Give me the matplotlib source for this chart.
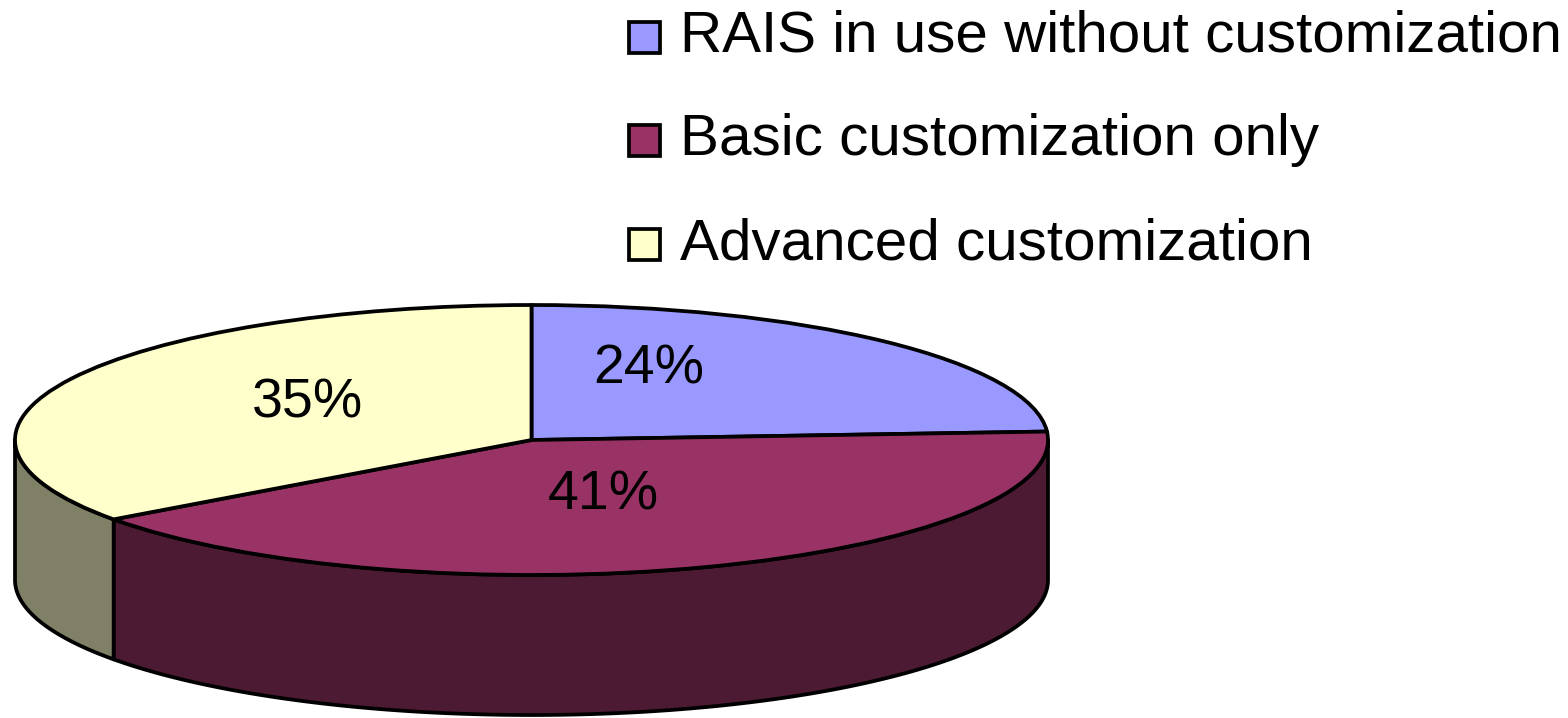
import numpy as np
import matplotlib
matplotlib.use("Agg")
import matplotlib.pyplot as plt
from matplotlib.patches import Polygon, Rectangle

plt.rcParams['font.family'] = ['Liberation Sans', 'DejaVu Sans']

# ---- data ----
categories = ["RAIS in use without customization",
              "Basic customization only",
              "Advanced customization"]
values = [24, 41, 35]
top_colors = ["#9999FF", "#993366", "#FFFFCC"]
side_colors = ["#4D4D80", "#4C1A33", "#808066"]

# ---- layout (pixels) ----
W, H = 1568, 718
cx, cy, rx, ry = 531.5, 440.0, 516.5, 135.0
depth = 140.0 / ry  # side depth in radius units
label_pos = [(649, 369), (603, 495), (307, 403)]
lw = 2.7

fig = plt.figure(figsize=(W / 100, H / 100), dpi=100)
ax = fig.add_axes([0, 0, 1, 1])

wedges, _ = ax.pie(values, colors=top_colors, startangle=90, counterclock=False,
                   wedgeprops=dict(edgecolor="black", linewidth=lw, joinstyle="round"))
ax.set_aspect("auto")
ax.set_xlim((0 - cx) / rx, (W - cx) / rx)
ax.set_ylim((cy - H) / ry, (cy - 0) / ry)
ax.axis("off")

# side faces of the 3-D pie (only the front half, angles -180..0, is visible)
total = float(sum(values))
start = 90.0
for v, sc in zip(values, side_colors):
    a1 = start - 360.0 * v / total  # clockwise
    a2 = start
    start = a1
    for shift in (0.0, 360.0, -360.0):
        l, h = max(a1 + shift, -180.0), min(a2 + shift, 0.0)
        if h > l:
            t = np.radians(np.linspace(l, h, 200))
            xs = np.cos(t)
            ys = np.sin(t)
            pts = np.concatenate([np.column_stack([xs, ys]),
                                  np.column_stack([xs[::-1], ys[::-1] - depth])])
            ax.add_patch(Polygon(pts, closed=True, facecolor=sc, edgecolor="black",
                                 linewidth=lw, joinstyle="round", zorder=0.5))

# overlay axes in pixel coordinates for labels and legend
ov = fig.add_axes([0, 0, 1, 1])
ov.set_xlim(0, W)
ov.set_ylim(H, 0)
ov.axis("off")
ov.patch.set_alpha(0)

for (x, y), v in zip(label_pos, values):
    ov.text(x, y, f"{v}%", ha="center", va="center", fontsize=40, color="black")

leg_y = [37, 140, 244]
for y, name, c in zip(leg_y, categories, top_colors):
    ov.add_patch(Rectangle((629, y - 15), 31, 31, facecolor=c, edgecolor="black",
                           linewidth=lw))
    ov.text(680, y, name, ha="left", va="center", fontsize=42, color="black")

fig.savefig("out.png", dpi=100)
